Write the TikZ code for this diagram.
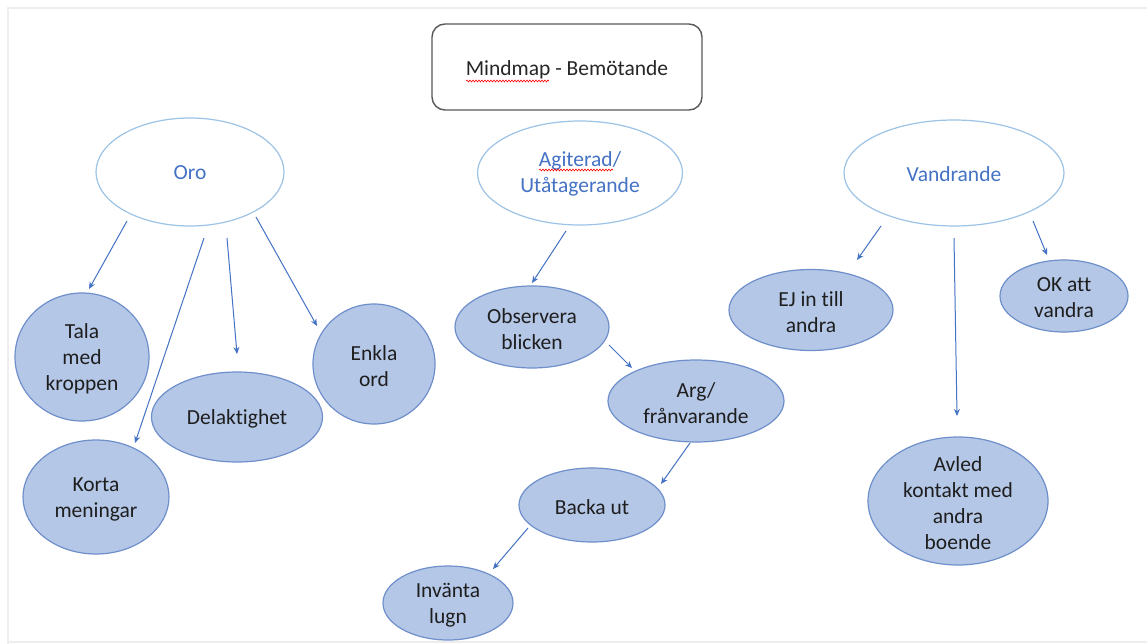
\documentclass[tikz,border=0pt]{standalone}
\usepackage{fontspec}
\setmainfont{Carlito}[Ligatures={NoCommon}]
\usetikzlibrary{arrows.meta,shapes.geometric,decorations.pathmorphing}
\definecolor{bubfill}{HTML}{B4C7E7}
\definecolor{bubdraw}{HTML}{6F8FCB}
\definecolor{ringdraw}{HTML}{9DC3E6}
\definecolor{accent}{HTML}{4472C4}
\definecolor{txtdark}{HTML}{1E1E1E}
\definecolor{frame}{HTML}{EEEEEE}
\definecolor{titledraw}{HTML}{595959}
\definecolor{titletext}{HTML}{262626}
\tikzset{
  basefont/.style={font=\fontsize{21.5}{26}\selectfont},
  titlebox/.style={draw=titledraw, line width=1.4pt, rounded corners=13pt, inner sep=0pt},
  ring/.style={ellipse, draw=ringdraw, line width=1.2pt, fill=white, inner sep=0pt},
  bub/.style={ellipse, draw=bubdraw, line width=1.2pt, fill=bubfill, inner sep=0pt},
  txt/.style={basefont, align=center, text=txtdark, inner sep=0pt, yshift=-2pt},
  ringtxt/.style={basefont, align=center, text=accent, inner sep=0pt, yshift=-1pt},
  arr/.style={draw=accent, line width=1pt, -{Stealth[length=7pt,width=6pt]}},
  squig/.style={draw=red, line width=0.6pt, decorate, decoration={snake, amplitude=0.9pt, segment length=3pt}}
}
\begin{document}
\begin{tikzpicture}[x=1pt,y=-1pt]
\useasboundingbox (0,0) rectangle (1147,644);
\fill[white] (0,0) rectangle (1147,644);
% faint frame
\draw[frame, line width=2pt] (8,644) -- (8,8) -- (1147,8);
\draw[frame, line width=2pt] (8,642) -- (1147,642);

% title
\node[titlebox, minimum width=270pt, minimum height=86pt] (title) at (567,67) {};
\node[txt, text=titletext, yshift=1pt] (titlet) at (567,69) {Mindmap - Bemötande};
\draw[squig] (466,81) -- (549,81);

% top-level rings
\node[ring, minimum width=188pt, minimum height=108pt] (oro) at (190,172) {};
\node[ringtxt] (orot) at (oro) {Oro};
\node[ring, minimum width=205pt, minimum height=104pt] (agi) at (580,173) {};
\node[ringtxt] (agit) at (agi) {Agiterad/\\Utåtagerande};
\draw[squig] (539,170) -- (613,170);
\node[ring, minimum width=220pt, minimum height=106pt] (van) at (954,173) {};
\node[ringtxt] (vant) at (van) {Vandrande};

% Oro children
\node[bub, minimum width=134pt, minimum height=128pt] (tala) at (82,357) {};
\node[txt] (talat) at (tala) {Tala\\med\\kroppen};
\node[bub, minimum width=146pt, minimum height=114pt] (korta) at (96,497) {};
\node[txt] (kortat) at (korta) {Korta\\meningar};
\node[bub, minimum width=171pt, minimum height=90pt] (dela) at (237,417) {};
\node[txt] (delat) at (dela) {Delaktighet};
\node[bub, minimum width=122pt, minimum height=120pt] (enkla) at (374,364) {};
\node[txt] (enklat) at (enkla) {Enkla\\ord};

% Agiterad chain
\node[bub, minimum width=154pt, minimum height=82pt] (obs) at (532,327) {};
\node[txt] (obst) at (obs) {Observera\\blicken};
\node[bub, minimum width=176pt, minimum height=82pt] (arg) at (696,401) {};
\node[txt] (argt) at (arg) {Arg/\\frånvarande};
\node[bub, minimum width=146pt, minimum height=74pt] (backa) at (592,505) {};
\node[txt] (backat) at (backa) {Backa ut};
\node[bub, minimum width=130pt, minimum height=74pt] (invanta) at (448,603) {};
\node[txt] (invantat) at (invanta) {Invänta\\lugn};

% Vandrande children
\node[bub, minimum width=164pt, minimum height=81pt] (ej) at (811,310) {};
\node[txt] (ejt) at (ej) {EJ in till\\andra};
\node[bub, minimum width=128pt, minimum height=72pt] (ok) at (1064,296) {};
\node[txt] (okt) at (ok) {OK att\\vandra};
\node[bub, minimum width=180pt, minimum height=128pt] (avled) at (958,501) {};
\node[txt] (avledt) at (avled) {Avled\\kontakt med\\andra\\boende};

% connector end points (arrows float between the shapes)
\coordinate (o1s) at (127,221); \coordinate (o1e) at (89,289);
\coordinate (o2s) at (204,238); \coordinate (o2e) at (135,443);
\coordinate (o3s) at (227,238); \coordinate (o3e) at (237,354);
\coordinate (o4s) at (256,217); \coordinate (o4e) at (317,326);
\coordinate (a1s) at (566,231); \coordinate (a1e) at (532,283);
\coordinate (a2s) at (609,345); \coordinate (a2e) at (632,368);
\coordinate (a3s) at (690,443); \coordinate (a3e) at (661,484);
\coordinate (a4s) at (528,528); \coordinate (a4e) at (493,569);
\coordinate (v1s) at (881,226); \coordinate (v1e) at (857,260);
\coordinate (v2s) at (954,238); \coordinate (v2e) at (957,416);
\coordinate (v3s) at (1033,221); \coordinate (v3e) at (1047,255);

\draw[arr] (o1s) -- (o1e);
\draw[arr] (o2s) -- (o2e);
\draw[arr] (o3s) -- (o3e);
\draw[arr] (o4s) -- (o4e);
\draw[arr] (a1s) -- (a1e);
\draw[arr] (a2s) -- (a2e);
\draw[arr] (a3s) -- (a3e);
\draw[arr] (a4s) -- (a4e);
\draw[arr] (v1s) -- (v1e);
\draw[arr] (v2s) -- (v2e);
\draw[arr] (v3s) -- (v3e);
\end{tikzpicture}
\end{document}
